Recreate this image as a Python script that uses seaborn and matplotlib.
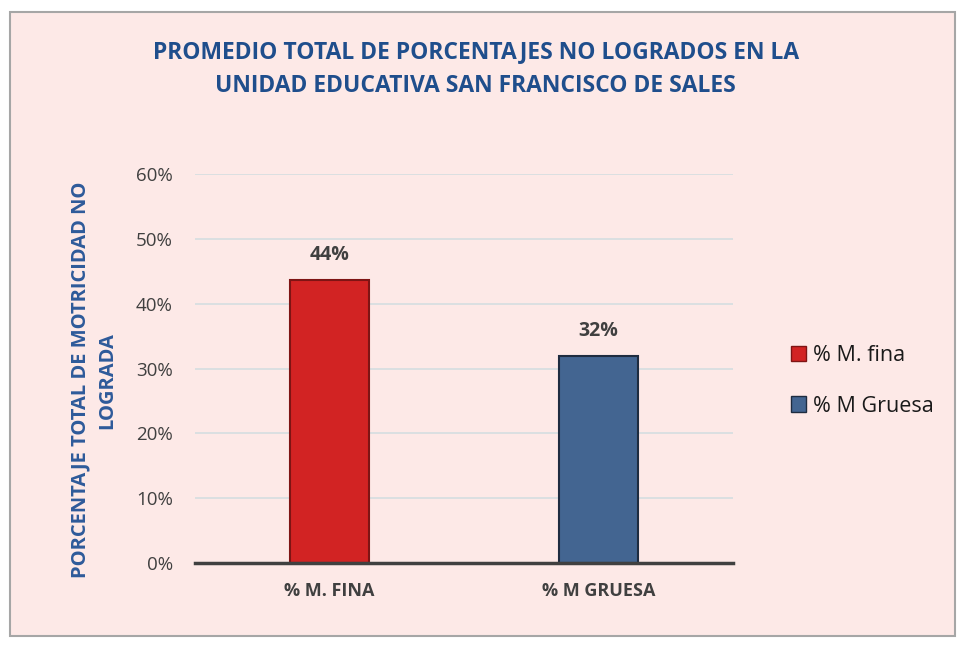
import matplotlib
matplotlib.use("Agg")
import matplotlib.pyplot as plt
import seaborn as sns
import pandas as pd
from matplotlib.patches import Rectangle, Patch
from matplotlib.ticker import FuncFormatter

categories = ["% M. FINA", "% M GRUESA"]
legend_labels = ["% M. fina", "% M Gruesa"]
values = [43.7, 32.0]
colors = ["#D22323", "#436591"]
edge_colors = ["#7E1414", "#1E2C40"]
yticks = [0, 10, 20, 30, 40, 50, 60]

df = pd.DataFrame({"cat": categories, "val": values, "leg": legend_labels})

sns.set_theme(style="white")
plt.rcParams['font.family'] = ['Open Sans', 'DejaVu Sans']

bg = "#FDE9E7"
fig = plt.figure(figsize=(9.57, 6.48), dpi=100)
fig.patch.set_facecolor("white")
# chart frame
frame = Rectangle((10/957, 1-636/648), 945/957, 624/648, transform=fig.transFigure,
                  facecolor=bg, edgecolor="#A6A6A6", linewidth=1.5, zorder=-5)
fig.patches.append(frame)

ax = fig.add_axes([195/957, 1-563/648, 538/957, (563-174)/648])
ax.set_facecolor("none")
sns.barplot(data=df, x="cat", y="val", hue="cat", palette=colors, width=0.295,
            ax=ax, legend=False, saturation=1)
for i, p in enumerate(ax.patches):
    p.set_edgecolor(edge_colors[i])
    p.set_linewidth(1.5)
    p.set_zorder(3)

ax.set_ylim(0, 60)
ax.set_yticks(yticks)
ax.yaxis.set_major_formatter(FuncFormatter(lambda v, _: f"{int(v)}%"))
ax.grid(axis="y", color="#D5DDE0", linewidth=1.2, zorder=0)
ax.set_axisbelow(True)
for s in ["top", "right", "left"]:
    ax.spines[s].set_visible(False)
ax.spines["bottom"].set_color("#404040")
ax.spines["bottom"].set_linewidth(2.5)
ax.spines["bottom"].set_zorder(5)
ax.tick_params(axis="y", length=0, labelsize=13.5, labelcolor="#404040", pad=16)
ax.tick_params(axis="x", length=0, labelsize=13, labelcolor="#404040", pad=14)
for t in ax.get_xticklabels():
    t.set_fontweight("bold")
ax.set_xlabel("")
ax.set_ylabel("PORCENTAJE TOTAL DE MOTRICIDAD NO\nLOGRADA", fontsize=14.5,
              fontweight="bold", color="#2E5A9A", linespacing=1.45)
ax.yaxis.set_label_coords(-0.145, 0.47)

for i, v in enumerate(values):
    ax.text(i, v + 2.3, f"{v:.0f}%", ha="center", va="bottom", fontsize=14,
            fontweight="bold", color="#404040")

fig.text(0.497, 1-52/648, "PROMEDIO TOTAL DE PORCENTAJES NO LOGRADOS EN LA",
         ha="center", va="center", fontsize=16.5, fontweight="bold", color="#1F4E8C")
fig.text(0.497, 1-86/648, "UNIDAD EDUCATIVA SAN FRANCISCO DE SALES",
         ha="center", va="center", fontsize=16.5, fontweight="bold", color="#1F4E8C")

handles = [Patch(facecolor=colors[i], edgecolor=edge_colors[i], label=legend_labels[i])
           for i in range(2)]
fig.legend(handles=handles, loc="center left", bbox_to_anchor=(772/957, 1-381/648),
           frameon=False, fontsize=15.5, handlelength=0.7, handleheight=0.7,
           handletextpad=0.3, labelspacing=1.35, labelcolor="#1A1A1A")

fig.savefig("out.png", dpi=100, facecolor=fig.get_facecolor())
